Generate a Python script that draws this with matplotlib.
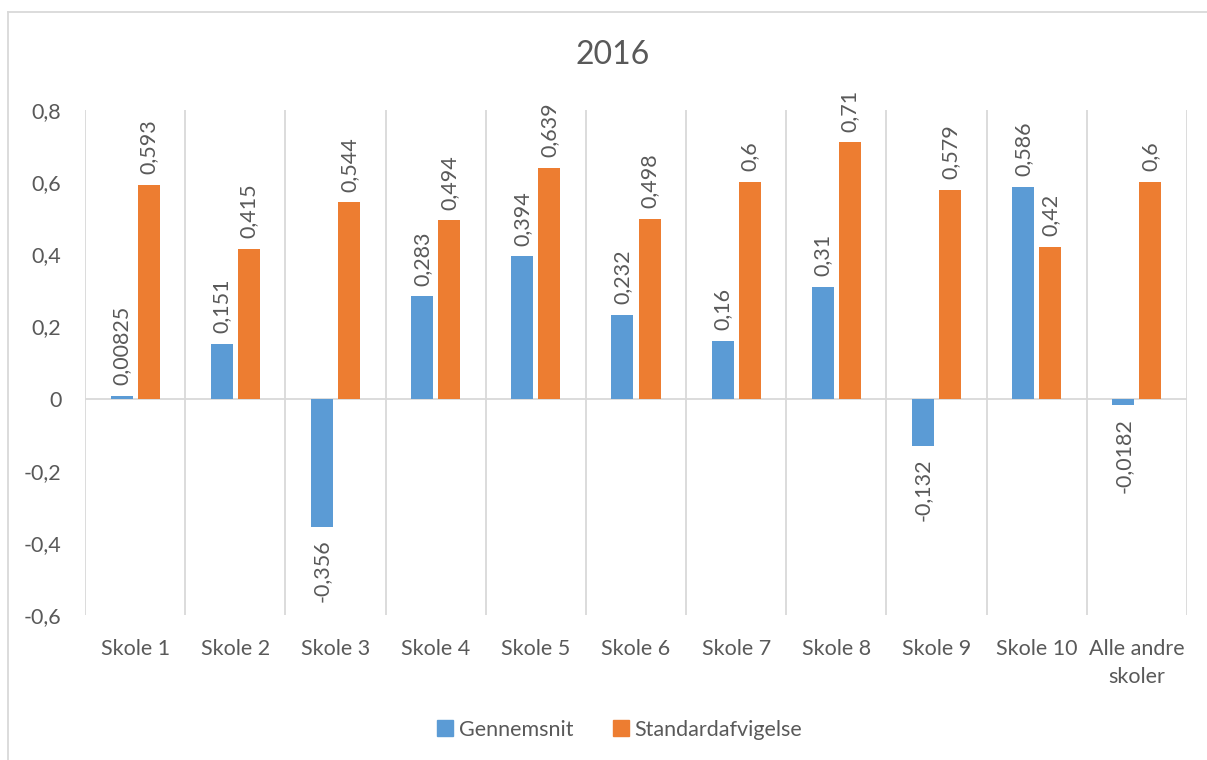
import numpy as np
import matplotlib.pyplot as plt
from matplotlib.lines import Line2D

plt.rcParams['font.family'] = ['Lato', 'DejaVu Sans']

skoler = ['Skole 1', 'Skole 2', 'Skole 3', 'Skole 4', 'Skole 5', 'Skole 6',
          'Skole 7', 'Skole 8', 'Skole 9', 'Skole 10', 'Alle andre\nskoler']
gennemsnit = [0.00825, 0.151, -0.356, 0.283, 0.394, 0.232, 0.16, 0.31,
              -0.132, 0.586, -0.0182]
std_afv = [0.593, 0.415, 0.544, 0.494, 0.639, 0.498, 0.6, 0.71, 0.579,
           0.42, 0.6]
gen_labels = ['0,00825', '0,151', '-0,356', '0,283', '0,394', '0,232',
              '0,16', '0,31', '-0,132', '0,586', '-0,0182']
std_labels = ['0,593', '0,415', '0,544', '0,494', '0,639', '0,498', '0,6',
              '0,71', '0,579', '0,42', '0,6']

blue = '#5B9BD5'
orange = '#ED7D31'
txt = '#595959'
grid = '#D9D9D9'
fs = 15.5

fig = plt.figure(figsize=(12.07, 7.6), dpi=100)
W, H = 1207, 760
ax = fig.add_axes([85 / W, 1 - 615 / H, (1187 - 85) / W, (615 - 110) / H])

x = np.arange(len(skoler))
bw = 0.22
gap = 0.05
ax.bar(x - (bw + gap) / 2, gennemsnit, bw, color=blue, zorder=3)
ax.bar(x + (bw + gap) / 2, std_afv, bw, color=orange, zorder=3)

for i in range(len(skoler)):
    v = gennemsnit[i]
    off = 0.03 if v >= 0 else -0.035
    ax.text(x[i] - (bw + gap) / 2, v + off, gen_labels[i], rotation=90,
            ha='center', va='bottom' if v >= 0 else 'top',
            fontsize=fs, color=txt)
    v = std_afv[i]
    ax.text(x[i] + (bw + gap) / 2, v + 0.03, std_labels[i], rotation=90,
            ha='center', va='bottom', fontsize=fs, color=txt)

ax.set_xlim(-0.5, len(skoler) - 0.5)
ax.set_ylim(-0.6, 0.8)
ax.set_yticks([-0.6, -0.4, -0.2, 0, 0.2, 0.4, 0.6, 0.8])
ax.set_yticklabels(['-0,6', '-0,4', '-0,2', '0', '0,2', '0,4', '0,6', '0,8'])
ax.set_xticks(x)
ax.set_xticklabels(skoler, linespacing=1.5)
ax.tick_params(length=0, labelsize=fs, colors=txt)
ax.tick_params(axis='y', pad=17)
ax.tick_params(axis='x', pad=17)

for b in np.arange(-0.5, len(skoler), 1):
    ax.axvline(b, color=grid, lw=1.3, zorder=1)
ax.axhline(0, color=grid, lw=1.3, zorder=2)
for s in ax.spines.values():
    s.set_visible(False)

fig.text(613 / W, 1 - 55 / H, '2016', ha='center',
         va='center', fontsize=23, color=txt)

handles = [Line2D([], [], marker='s', ls='', color=blue, markersize=11),
           Line2D([], [], marker='s', ls='', color=orange, markersize=11)]
fig.legend(handles, ['Gennemsnit', 'Standardafvigelse'], loc='center',
           bbox_to_anchor=(617 / W, 1 - 730 / H), ncol=2, frameon=False,
           fontsize=fs, labelcolor=txt, handletextpad=0.05,
           columnspacing=1.6, handlelength=1.2)

# chart border
fig.add_artist(Line2D([8 / W, 1], [1 - 11.5 / H, 1 - 11.5 / H],
                      color=grid, lw=1.3))
fig.add_artist(Line2D([8 / W, 8 / W], [0, 1 - 11.5 / H],
                      color=grid, lw=1.3))

fig.savefig('out.png', dpi=100)
